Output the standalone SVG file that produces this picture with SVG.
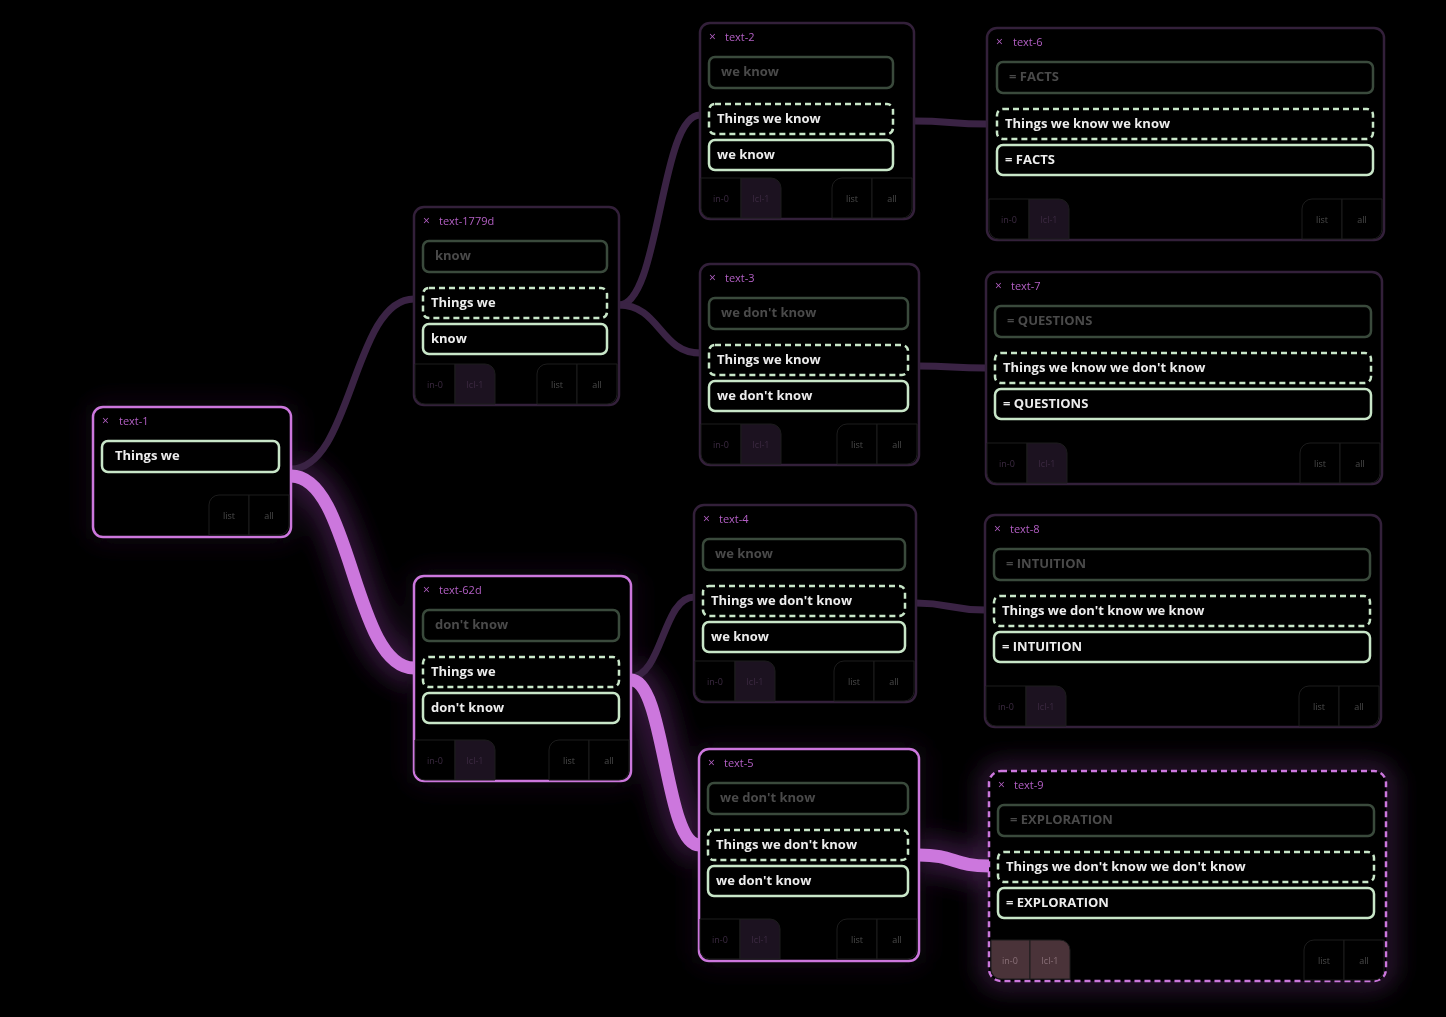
<svg xmlns="http://www.w3.org/2000/svg" width="1446" height="1017" viewBox="0 0 1446 1017">
<style>
.bg{fill:#000}
.frame{fill:#000;stroke:#33203a;stroke-width:2.5}
.frame.on{stroke:#cc77dd}
.frame.dash{stroke:#cc77dd;stroke-dasharray:6 4}
.x{font-family:"Open Sans","Liberation Sans",sans-serif;font-size:12px;fill:#b35fc4}
.title{font-family:"Open Sans","Liberation Sans",sans-serif;font-size:11px;fill:#b35fc4}
.ghost{fill:none;stroke:#3a4a3c;stroke-width:2.5}
.gt{font-family:"Open Sans","Liberation Sans",sans-serif;font-weight:700;font-size:13px;fill:#4a4a4a}
.db{fill:none;stroke:#c8e6c8;stroke-width:2.5;stroke-dasharray:6 4}
.sb{fill:none;stroke:#c8e6c8;stroke-width:2.5}
.bt{font-family:"Open Sans","Liberation Sans",sans-serif;font-weight:700;font-size:13px;fill:#ececec}
.tab{fill:#000;stroke:#1c1c1c;stroke-width:1}
.tabact{fill:#1c1220;stroke:#1c1c1c;stroke-width:1}
.tabhot{fill:#4a3339;stroke:#1c1c1c;stroke-width:1}
.tt{font-family:"Open Sans","Liberation Sans",sans-serif;font-size:9px;fill:#4a4a4a;text-anchor:middle}
.tl{font-family:"Open Sans","Liberation Sans",sans-serif;font-size:9px;fill:#3c2a42;text-anchor:middle}
.th{font-family:"Open Sans","Liberation Sans",sans-serif;font-size:9px;fill:#8a7078;text-anchor:middle}
.cd{fill:none;stroke:#3a2344;stroke-width:7}
.cp{fill:none;stroke:#cc77dd;stroke-width:13}
.halo{fill:none;stroke:#5e2a6c;stroke-width:34;opacity:.55}
</style>
<defs>
<filter id="blur" x="-50%" y="-50%" width="200%" height="200%"><feGaussianBlur stdDeviation="12"/></filter>
<filter id="nglow" x="-20%" y="-20%" width="140%" height="140%"><feGaussianBlur stdDeviation="6"/></filter>
<g id="ltabs">
<path class="tab" d="M1,0 H41 V40 H11 A10,10 0 0 1 1,30 Z"/>
<path class="tabact" d="M41,0 H71 A10,10 0 0 1 81,10 V40 H41 Z"/>
<text class="tl" x="21" y="24">in-0</text>
<text class="tl" x="61" y="24">lcl-1</text>
</g>
<g id="rtabs">
<path class="tab" d="M0,10 A10,10 0 0 1 10,0 H40 V40 H0 Z"/>
<path class="tab" d="M40,0 H80 V30 A10,10 0 0 1 70,40 H40 Z"/>
<text class="tt" x="20" y="24">list</text>
<text class="tt" x="60" y="24">all</text>
</g>
</defs>
<rect class="bg" x="0" y="0" width="1446" height="1017"/>

<g id="connectors">
<g filter="url(#blur)">
<path class="halo" d="M291,476 C352,476 353,668 414,668"/>
<path class="halo" d="M631,680 C665,680 665,845 699,845"/>
<path class="halo" d="M919,855 C954,855 954,866 989,866"/>
<rect x="989" y="771" width="397" height="210" rx="12" fill="none" stroke="#6a3078" stroke-width="14" opacity=".6"/>
<rect x="699" y="749" width="220" height="212" rx="12" fill="none" stroke="#6a3078" stroke-width="6" opacity=".4"/>
<rect x="414" y="576" width="217" height="205" rx="12" fill="none" stroke="#6a3078" stroke-width="6" opacity=".4"/>
<rect x="93" y="407" width="198" height="130" rx="12" fill="none" stroke="#6a3078" stroke-width="6" opacity=".4"/>
</g>
<path class="cd" d="M291,469 C352,469 353,299 414,299"/>
<path class="cd" d="M619,305 C660,305 660,115 700,115"/>
<path class="cd" d="M619,305 C660,305 660,353 700,353"/>
<path class="cd" d="M914,121 C950,121 950,124 987,124"/>
<path class="cd" d="M919,366 C952,366 952,368 986,368"/>
<path class="cd" d="M631,677 C662,677 663,597 694,597"/>
<path class="cd" d="M916,603 C950,603 950,610 985,610"/>
<path class="cp" d="M291,476 C352,476 353,668 414,668"/>
<path class="cp" d="M631,680 C665,680 665,845 699,845"/>
<path class="cp" d="M919,855 C954,855 954,866 989,866"/>
</g>

<g id="text-1" transform="translate(93,407)">
<rect class="frame on" x="0" y="0" width="198" height="130" rx="10"/>
<text class="x" x="9" y="18">×</text><text class="title" x="26" y="18">text-1</text>
<rect class="sb" x="9" y="34" width="177" height="31" rx="6"/>
<text class="bt" x="22" y="53">Things we</text>
<use href="#rtabs" x="116" y="88"/>
</g>

<g id="text-1779d" transform="translate(414,207)">
<rect class="frame" x="0" y="0" width="205" height="198" rx="10"/>
<text class="x" x="9" y="18">×</text><text class="title" x="25" y="18">text-1779d</text>
<rect class="ghost" x="9" y="34" width="184" height="31" rx="6"/>
<text class="gt" x="21" y="53">know</text>
<rect class="db" x="9" y="81" width="184" height="30" rx="6"/>
<text class="bt" x="17" y="100">Things we</text>
<rect class="sb" x="9" y="117" width="184" height="30" rx="6"/>
<text class="bt" x="17" y="136">know</text>
<use href="#ltabs" x="0" y="157"/>
<use href="#rtabs" x="123" y="157"/>
</g>

<g id="text-2" transform="translate(700,23)">
<rect class="frame" x="0" y="0" width="214" height="196" rx="10"/>
<text class="x" x="9" y="18">×</text><text class="title" x="25" y="18">text-2</text>
<rect class="ghost" x="9" y="34" width="184" height="31" rx="6"/>
<text class="gt" x="21" y="53">we know</text>
<rect class="db" x="9" y="81" width="184" height="30" rx="6"/>
<text class="bt" x="17" y="100">Things we know</text>
<rect class="sb" x="9" y="117" width="184" height="30" rx="6"/>
<text class="bt" x="17" y="136">we know</text>
<use href="#ltabs" x="0" y="155"/>
<use href="#rtabs" x="132" y="155"/>
</g>

<g id="text-3" transform="translate(700,264)">
<rect class="frame" x="0" y="0" width="219" height="201" rx="10"/>
<text class="x" x="9" y="18">×</text><text class="title" x="25" y="18">text-3</text>
<rect class="ghost" x="9" y="34" width="199" height="31" rx="6"/>
<text class="gt" x="21" y="53">we don't know</text>
<rect class="db" x="9" y="81" width="199" height="30" rx="6"/>
<text class="bt" x="17" y="100">Things we know</text>
<rect class="sb" x="9" y="117" width="199" height="30" rx="6"/>
<text class="bt" x="17" y="136">we don't know</text>
<use href="#ltabs" x="0" y="160"/>
<use href="#rtabs" x="137" y="160"/>
</g>

<g id="text-4" transform="translate(694,505)">
<rect class="frame" x="0" y="0" width="222" height="197" rx="10"/>
<text class="x" x="9" y="18">×</text><text class="title" x="25" y="18">text-4</text>
<rect class="ghost" x="9" y="34" width="202" height="31" rx="6"/>
<text class="gt" x="21" y="53">we know</text>
<rect class="db" x="9" y="81" width="202" height="30" rx="6"/>
<text class="bt" x="17" y="100">Things we don't know</text>
<rect class="sb" x="9" y="117" width="202" height="30" rx="6"/>
<text class="bt" x="17" y="136">we know</text>
<use href="#ltabs" x="0" y="156"/>
<use href="#rtabs" x="140" y="156"/>
</g>

<g id="text-5" transform="translate(699,749)">
<rect class="frame on" x="0" y="0" width="220" height="212" rx="10"/>
<text class="x" x="9" y="18">×</text><text class="title" x="25" y="18">text-5</text>
<rect class="ghost" x="9" y="34" width="200" height="31" rx="6"/>
<text class="gt" x="21" y="53">we don't know</text>
<rect class="db" x="9" y="81" width="200" height="30" rx="6"/>
<text class="bt" x="17" y="100">Things we don't know</text>
<rect class="sb" x="9" y="117" width="200" height="30" rx="6"/>
<text class="bt" x="17" y="136">we don't know</text>
<use href="#ltabs" x="0" y="170"/>
<use href="#rtabs" x="138" y="170"/>
</g>

<g id="text-62d" transform="translate(414,576)">
<rect class="frame on" x="0" y="0" width="217" height="205" rx="10"/>
<text class="x" x="9" y="18">×</text><text class="title" x="25" y="18">text-62d</text>
<rect class="ghost" x="9" y="34" width="196" height="31" rx="6"/>
<text class="gt" x="21" y="53">don't know</text>
<rect class="db" x="9" y="81" width="196" height="30" rx="6"/>
<text class="bt" x="17" y="100">Things we</text>
<rect class="sb" x="9" y="117" width="196" height="30" rx="6"/>
<text class="bt" x="17" y="136">don't know</text>
<use href="#ltabs" x="0" y="164"/>
<use href="#rtabs" x="135" y="164"/>
</g>

<g id="text-6" transform="translate(987,28)">
<rect class="frame" x="0" y="0" width="397" height="212" rx="10"/>
<text class="x" x="9" y="18">×</text><text class="title" x="26" y="18">text-6</text>
<rect class="ghost" x="10" y="34" width="376" height="31" rx="6"/>
<text class="gt" x="22" y="53">= FACTS</text>
<rect class="db" x="10" y="81" width="376" height="30" rx="6"/>
<text class="bt" x="18" y="100">Things we know we know</text>
<rect class="sb" x="10" y="117" width="376" height="30" rx="6"/>
<text class="bt" x="18" y="136">= FACTS</text>
<use href="#ltabs" x="1" y="171"/>
<use href="#rtabs" x="315" y="171"/>
</g>

<g id="text-7" transform="translate(986,272)">
<rect class="frame" x="0" y="0" width="396" height="212" rx="10"/>
<text class="x" x="9" y="18">×</text><text class="title" x="25" y="18">text-7</text>
<rect class="ghost" x="9" y="34" width="376" height="31" rx="6"/>
<text class="gt" x="21" y="53">= QUESTIONS</text>
<rect class="db" x="9" y="81" width="376" height="30" rx="6"/>
<text class="bt" x="17" y="100">Things we know we don't know</text>
<rect class="sb" x="9" y="117" width="376" height="30" rx="6"/>
<text class="bt" x="17" y="136">= QUESTIONS</text>
<use href="#ltabs" x="0" y="171"/>
<use href="#rtabs" x="314" y="171"/>
</g>

<g id="text-8" transform="translate(985,515)">
<rect class="frame" x="0" y="0" width="396" height="212" rx="10"/>
<text class="x" x="9" y="18">×</text><text class="title" x="25" y="18">text-8</text>
<rect class="ghost" x="9" y="34" width="376" height="31" rx="6"/>
<text class="gt" x="21" y="53">= INTUITION</text>
<rect class="db" x="9" y="81" width="376" height="30" rx="6"/>
<text class="bt" x="17" y="100">Things we don't know we know</text>
<rect class="sb" x="9" y="117" width="376" height="30" rx="6"/>
<text class="bt" x="17" y="136">= INTUITION</text>
<use href="#ltabs" x="0" y="171"/>
<use href="#rtabs" x="314" y="171"/>
</g>

<g id="text-9" transform="translate(989,771)">
<rect class="frame dash" x="0" y="0" width="397" height="210" rx="12"/>
<text class="x" x="9" y="18">×</text><text class="title" x="25" y="18">text-9</text>
<rect class="ghost" x="9" y="34" width="376" height="31" rx="6"/>
<text class="gt" x="21" y="53">= EXPLORATION</text>
<rect class="db" x="9" y="81" width="376" height="30" rx="6"/>
<text class="bt" x="17" y="100">Things we don't know we don't know</text>
<rect class="sb" x="9" y="117" width="376" height="30" rx="6"/>
<text class="bt" x="17" y="136">= EXPLORATION</text>
<path class="tabhot" d="M2,169 H41 V208 H12 A10,10 0 0 1 2,198 Z"/>
<path class="tabhot" d="M41,169 H71 A10,10 0 0 1 81,179 V208 H41 Z"/>
<text class="th" x="21" y="193">in-0</text>
<text class="th" x="61" y="193">lcl-1</text>
<use href="#rtabs" x="315" y="169"/>
</g>
</svg>
